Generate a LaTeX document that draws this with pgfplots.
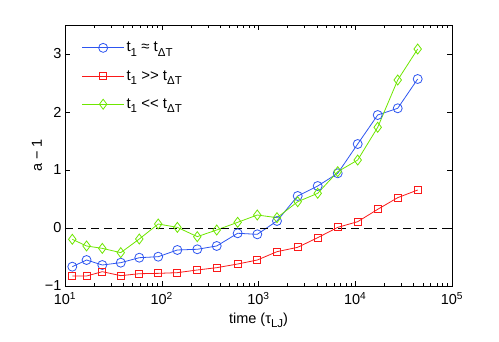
\documentclass[border=0pt]{standalone}
\usepackage{pgfplots}
\pgfplotsset{compat=1.18}
\usepackage{fontspec}
\setmainfont{Liberation Sans}
\definecolor{cblue}{RGB}{45,85,240}
\definecolor{cred}{RGB}{250,25,25}
\definecolor{cgreen}{RGB}{110,230,0}
\newcommand\sub[1]{\raisebox{-0.55ex}{\fontsize{11.5}{12}\selectfont #1}}
\begin{document}
\begin{tikzpicture}
\begin{axis}[
  scale only axis,
  width=387pt, height=261pt,
  xmode=log,
  xmin=10, xmax=100000,
  ymin=-1, ymax=3.5,
  xtick={10,100,1000,10000,100000},
  xticklabels={10\textsuperscript{1},10\textsuperscript{2},10\textsuperscript{3},10\textsuperscript{4},10\textsuperscript{5}},
  xticklabel style={yshift=-3pt},
  ytick={-1,0,1,2,3},
  yticklabels={−1,0,1,2,3},
  tick align=inside,
  major tick length=5pt,
  minor tick length=3pt,
  tick style={black, line width=0.5pt},
  axis line style={line width=0.6pt},
  font=\fontsize{14.5}{16}\selectfont,
  xlabel={time (τ\sub{LJ})},
  ylabel={a − 1},
  xlabel style={yshift=-1pt},
  ylabel style={yshift=-4pt},
  legend style={at={(0.035,0.95)}, anchor=north west, draw=none, fill=none,
    font=\fontsize{15}{17}\selectfont, row sep=13pt},
  legend cell align=left,
  legend image code/.code={\draw[mark repeat=2,mark phase=2] plot coordinates {(0pt,0pt) (21pt,0pt) (42pt,0pt)};},
]
\coordinate (sw) at (rel axis cs:0,0);
\coordinate (ne) at (rel axis cs:1,1);
\addplot[cblue, line width=0.8pt, mark=o, mark size=4.5pt, mark options={solid, line width=0.8pt}] coordinates {
(11.9,-0.667)(16.7,-0.552)(24.3,-0.638)(37.7,-0.598)(58.6,-0.512)(92,-0.495)(145,-0.379)(233,-0.367)(370,-0.310)(609,-0.091)(972,-0.109)(1553,0.121)(2541,0.552)(4090,0.724)(6590,0.943)(10600,1.448)(17060,1.948)(27480,2.064)(44200,2.569)};
\addlegendentry{t\sub{1} ≈ t\sub{ΔT}}
\addplot[cred, line width=0.8pt, mark=square, mark size=3.5pt, mark options={solid, line width=0.8pt}] coordinates {
(11.9,-0.828)(16.7,-0.828)(24.3,-0.753)(37.7,-0.822)(58.6,-0.788)(92,-0.782)(145,-0.770)(233,-0.724)(370,-0.684)(609,-0.621)(972,-0.552)(1553,-0.408)(2541,-0.333)(4090,-0.167)(6590,0.011)(10600,0.109)(17060,0.322)(27480,0.523)(44200,0.655)};
\addlegendentry{t\sub{1} >{}> t\sub{ΔT}}
\addplot[cgreen, line width=0.8pt, mark=diamond, mark size=5pt, mark options={solid, line width=0.8pt}] coordinates {
(11.9,-0.195)(16.7,-0.310)(24.3,-0.351)(37.7,-0.425)(58.6,-0.190)(92,0.069)(145,0.011)(233,-0.149)(370,-0.034)(609,0.098)(972,0.224)(1553,0.178)(2541,0.453)(4090,0.598)(6590,0.971)(10600,1.172)(17060,1.736)(27480,2.552)(44200,3.086)};
\addlegendentry{t\sub{1} <{}< t\sub{ΔT}}
\addplot[black, line width=0.7pt, dash pattern=on 8pt off 5pt, forget plot] coordinates {(10,0)(100000,0)};
\end{axis}
\path (sw) ++(-65pt,-56pt) coordinate (a);
\path (ne) ++(47pt,25pt) coordinate (b);
\path[use as bounding box] (a) rectangle (b);
\end{tikzpicture}
\end{document}
